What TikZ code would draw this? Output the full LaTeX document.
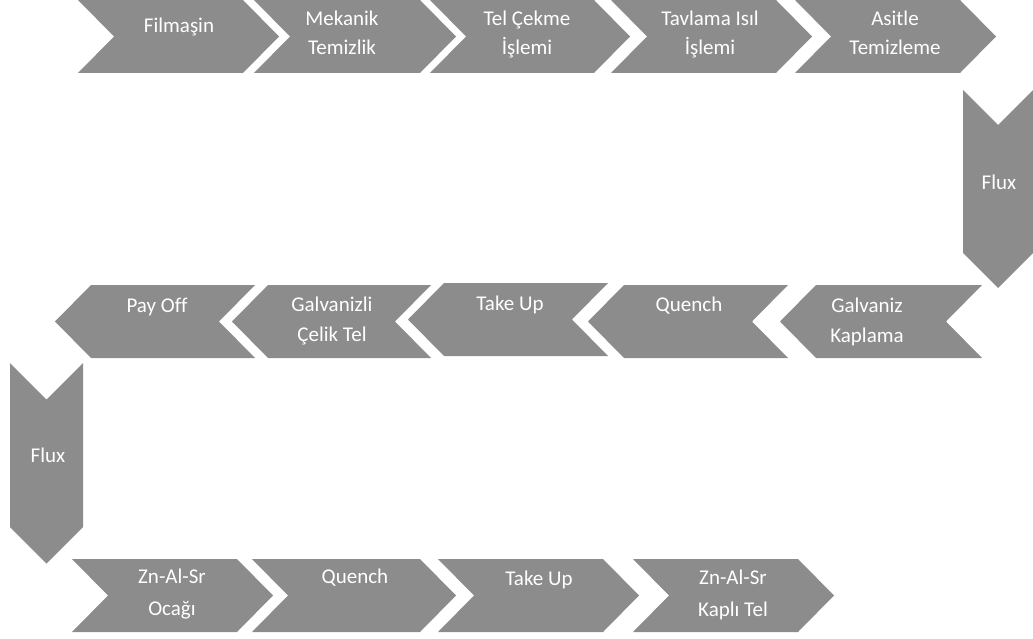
\documentclass[tikz,border=0pt]{standalone}
\usepackage{fontspec}
\setmainfont{Carlito}[Ligatures=NoCommon]
\definecolor{chevgray}{RGB}{140,140,140}
\tikzset{
  chev/.style={fill=chevgray, draw=none},
  lbl/.style={text=white, font=\fontsize{21}{25}\selectfont, inner sep=0pt, anchor=base}
}
% right-pointing chevron: left, top, right (body)
\newcommand\chevR[3]{%
  \fill[chev] (#1,#2) -- (#3,#2) -- ({#3+36},{#2+36.5}) -- (#3,{#2+73}) -- (#1,{#2+73}) -- ({#1+36},{#2+36.5}) -- cycle;}
% left-pointing chevron: tip, top, right
\newcommand\chevL[3]{%
  \fill[chev] (#1,{#2+36.5}) -- ({#1+36},#2) -- (#3,#2) -- ({#3-36},{#2+36.5}) -- (#3,{#2+73}) -- ({#1+36},{#2+73}) -- cycle;}
% down-pointing chevron: left, top, right, body bottom
\newcommand\chevD[4]{%
  \fill[chev] (#1,#2) -- ({(#1+#3)/2},{#2+(#3-#1)/2}) -- (#3,#2) -- (#3,#4) -- ({(#1+#3)/2},{#4+(#3-#1)/2}) -- (#1,#4) -- cycle;}
\begin{document}
\begin{tikzpicture}[x=1pt,y=-1pt]
\useasboundingbox (0,0) rectangle (1033,639);
% row 1
\chevR{78}{0}{243}
\chevR{254}{0}{420}
\chevR{430}{0}{594}
\chevR{611}{0}{776}
\chevR{795}{0}{960}
% right flux
\chevD{963}{90}{1033}{253}
% row 2
\chevL{55}{285}{255}
\chevL{232}{285}{431}
\chevL{408}{283}{608}
\chevL{588}{285}{788}
\chevL{780}{285}{982}
% left flux
\chevD{10}{363}{83}{527}
% row 3
\chevR{72}{559}{237}
\chevR{252}{559}{420}
\chevR{438}{559}{603}
\chevR{633}{559}{798}

% labels row 1
\node[lbl] (filmasin) at (179,33) {Filmaşin};
\node[lbl] (mekA) at (342,26) {Mekanik};
\node[lbl] (mekB) at (342,55) {Temizlik};
\node[lbl] (telA) at (527,26) {Tel Çekme};
\node[lbl] (telB) at (527,55) {İşlemi};
\node[lbl] (tavA) at (710,26) {Tavlama Isıl};
\node[lbl] (tavB) at (710,55) {İşlemi};
\node[lbl] (asiA) at (895,26) {Asitle};
\node[lbl] (asiB) at (895,55) {Temizleme};
\node[lbl] (flux1) at (999,190) {Flux};
% labels row 2
\node[lbl] (payoff) at (157,312) {Pay Off};
\node[lbl] (galcA) at (332,311) {Galvanizli};
\node[lbl] (galcB) at (332,341) {Çelik Tel};
\node[lbl] (takeup1) at (510,310) {Take Up};
\node[lbl] (quench1) at (689,311) {Quench};
\node[lbl] (galkA) at (867,312) {Galvaniz};
\node[lbl] (galkB) at (867,342) {Kaplama};
\node[lbl] (flux2) at (48,462) {Flux};
% labels row 3
\node[lbl] (ocakA) at (172,583) {Zn-Al-Sr};
\node[lbl] (ocakB) at (172,615) {Ocağı};
\node[lbl] (quench2) at (355,583) {Quench};
\node[lbl] (takeup2) at (539,585) {Take Up};
\node[lbl] (kapA) at (733,584) {Zn-Al-Sr};
\node[lbl] (kapB) at (733,616) {Kaplı Tel};
\end{tikzpicture}
\end{document}
